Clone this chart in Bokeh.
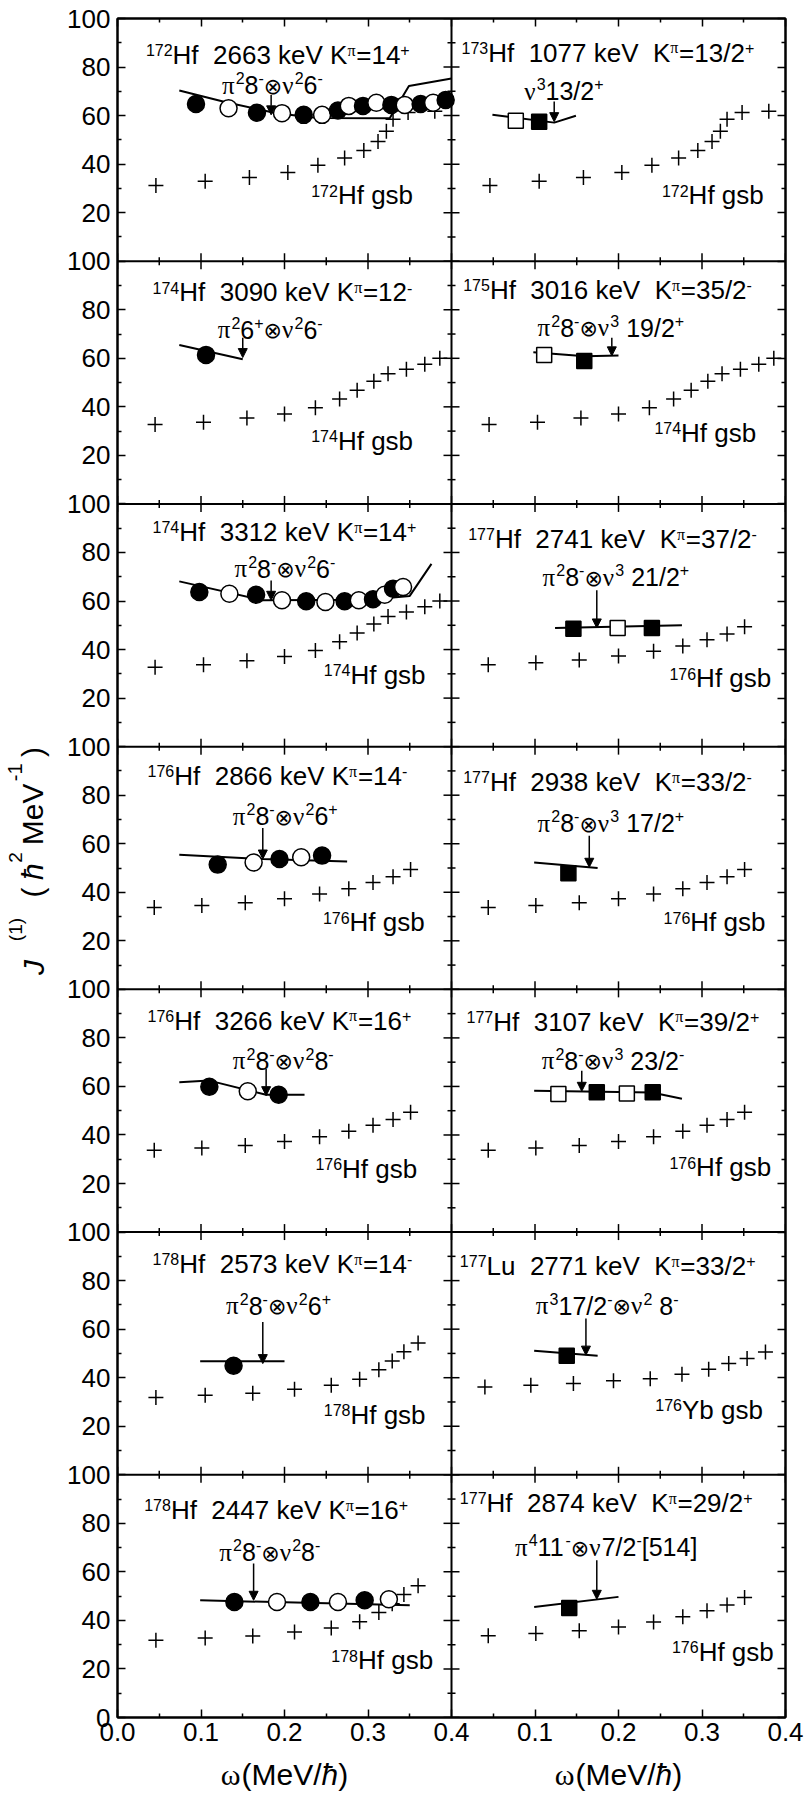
import math
from bokeh.plotting import figure
from bokeh.layouts import row, column
from bokeh.models import (ColumnDataSource, FixedTicker, LinearAxis, Range1d, Span,
                          Arrow, NormalHead, CustomJSTickFormatter)
from bokeh.embed import file_html
from bokeh.resources import INLINE
from bokeh.core.properties import value

# ---------------- data (omega in MeV/hbar, J(1) in hbar^2 MeV^-1) ----------------
GSB172_W = [0.046, 0.105, 0.158, 0.204, 0.240, 0.272, 0.295, 0.312, 0.322, 0.330, 0.348, 0.380]
GSB172_J = [31.2, 32.9, 34.5, 36.6, 39.5, 42.5, 45.6, 49.3, 53.5, 58.5, 61.3, 61.8]
GSB174_W = [0.045, 0.103, 0.155, 0.200, 0.237, 0.266, 0.287, 0.307, 0.324, 0.346, 0.368, 0.386]
GSB174_J = [32.7, 33.7, 35.4, 37.1, 39.6, 43.2, 46.8, 50.5, 53.6, 55.5, 57.6, 60.0]
GSB176_W = [0.044, 0.101, 0.153, 0.200, 0.242, 0.277, 0.306, 0.330, 0.351]
GSB176_J = [33.7, 34.6, 35.7, 37.3, 39.3, 41.5, 44.0, 46.4, 49.4]
GSB178_W = [0.046, 0.105, 0.162, 0.212, 0.256, 0.290, 0.313, 0.329, 0.343, 0.360]
GSB178_J = [31.8, 32.8, 33.6, 35.2, 36.9, 39.4, 43.3, 46.9, 50.7, 54.3]
GSB176YB_W = [0.040, 0.095, 0.146, 0.194, 0.238, 0.276, 0.308, 0.332, 0.354, 0.376]
GSB176YB_J = [36.2, 36.9, 37.6, 38.7, 39.6, 41.4, 43.5, 45.8, 47.9, 50.6]

# band points (filled = 1 -> solid symbol, 0 -> open symbol) and calculated lines
B1_W = [0.094, 0.133, 0.167, 0.197, 0.223, 0.245, 0.264, 0.277, 0.294, 0.310, 0.328, 0.344, 0.363, 0.378, 0.393]
B1_J = [64.8, 63.0, 61.2, 61.0, 60.3, 60.3, 62.1, 64.0, 64.0, 65.3, 64.4, 64.4, 64.8, 65.3, 66.4]
B1_F = [1, 0, 1, 0, 1, 0, 1, 0, 1, 0, 1, 0, 1, 0, 1]
L1_W = [0.074, 0.130, 0.190, 0.240, 0.326, 0.349, 0.400]
L1_J = [70.3, 65.5, 61.0, 59.0, 58.9, 72.2, 75.3]

B2_W = [0.077, 0.105]
B2_J = [57.9, 57.5]
B2_F = [0, 1]
L2_W = [0.049, 0.123, 0.149]
L2_J = [60.3, 57.1, 59.9]

B3_W = [0.106]
B3_J = [61.4]
B3_F = [1]
L3_W = [0.074, 0.150]
L3_J = [65.5, 59.6]

B4_W = [0.111, 0.159]
B4_J = [61.4, 58.9]
B4_F = [0, 1]
L4_W = [0.098, 0.160, 0.200]
L4_J = [62.5, 60.8, 61.2]

B5_W = [0.098, 0.134, 0.166, 0.197, 0.226, 0.249, 0.272, 0.289, 0.306, 0.320, 0.330, 0.342]
B5_J = [63.7, 63.0, 62.6, 60.3, 59.9, 59.6, 59.9, 60.3, 60.7, 62.6, 65.1, 65.8]
B5_F = [1, 0, 1, 0, 1, 0, 1, 0, 1, 0, 1, 0]
L5_W = [0.074, 0.174, 0.300, 0.350, 0.376]
L5_J = [68.1, 60.3, 60.5, 62.1, 75.3]

B6_W = [0.146, 0.199, 0.240]
B6_J = [48.6, 48.9, 48.9]
B6_F = [1, 0, 1]
L6_W = [0.124, 0.276]
L6_J = [48.9, 50.0]

B7_W = [0.120, 0.163, 0.194, 0.220, 0.245]
B7_J = [51.4, 52.3, 53.7, 54.4, 55.1]
B7_F = [1, 0, 1, 0, 1]
L7_W = [0.074, 0.174, 0.275]
L7_J = [55.5, 53.7, 52.7]

B8_W = [0.140]
B8_J = [47.8]
B8_F = [1]
L8_W = [0.099, 0.175]
L8_J = [52.3, 50.0]

B9_W = [0.110, 0.156, 0.193]
B9_J = [59.9, 58.0, 56.6]
B9_F = [1, 0, 1]
L9_W = [0.074, 0.110, 0.178, 0.224]
L9_J = [61.7, 62.4, 56.6, 56.6]

B10_W = [0.128, 0.174, 0.210, 0.241]
B10_J = [56.9, 57.6, 57.1, 57.6]
B10_F = [0, 1, 0, 1]
L10_W = [0.099, 0.240, 0.276]
L10_J = [58.2, 57.5, 54.9]

B11_W = [0.139]
B11_J = [44.9]
B11_F = [1]
L11_W = [0.099, 0.200]
L11_J = [46.8, 46.8]

B12_W = [0.138]
B12_J = [49.0]
B12_F = [1]
L12_W = [0.099, 0.175]
L12_J = [51.1, 49.0]

B13_W = [0.140, 0.191, 0.231, 0.264, 0.296, 0.325]
B13_J = [47.6, 47.6, 47.6, 47.6, 48.3, 48.7]
B13_F = [1, 0, 1, 0, 1, 0]
L13_W = [0.099, 0.350]
L13_J = [48.3, 46.2]

B14_W = [0.141]
B14_J = [45.1]
B14_F = [1]
L14_W = [0.099, 0.200]
L14_J = [45.5, 49.7]

# texts ("^{..}" = superscript)
TITLES = ["^{172}Hf  2663 keV K^{π}=14^{+}", "^{173}Hf  1077 keV  K^{π}=13/2^{+}",
          "^{174}Hf  3090 keV K^{π}=12^{-}", "^{175}Hf  3016 keV  K^{π}=35/2^{-}",
          "^{174}Hf  3312 keV K^{π}=14^{+}", "^{177}Hf  2741 keV  K^{π}=37/2^{-}",
          "^{176}Hf  2866 keV K^{π}=14^{-}", "^{177}Hf  2938 keV  K^{π}=33/2^{-}",
          "^{176}Hf  3266 keV K^{π}=16^{+}", "^{177}Hf  3107 keV  K^{π}=39/2^{+}",
          "^{178}Hf  2573 keV K^{π}=14^{-}", "^{177}Lu  2771 keV  K^{π}=33/2^{+}",
          "^{178}Hf  2447 keV K^{π}=16^{+}", "^{177}Hf  2874 keV  K^{π}=29/2^{+}"]
CONFIGS = ["π^{2}8^{-}⊗ν^{2}6^{-}", "ν^{3}13/2^{+}",
           "π^{2}6^{+}⊗ν^{2}6^{-}", "π^{2}8^{-}⊗ν^{3} 19/2^{+}",
           "π^{2}8^{-}⊗ν^{2}6^{-}", "π^{2}8^{-}⊗ν^{3} 21/2^{+}",
           "π^{2}8^{-}⊗ν^{2}6^{+}", "π^{2}8^{-}⊗ν^{3} 17/2^{+}",
           "π^{2}8^{-}⊗ν^{2}8^{-}", "π^{2}8^{-}⊗ν^{3} 23/2^{-}",
           "π^{2}8^{-}⊗ν^{2}6^{+}", "π^{3}17/2^{-}⊗ν^{2} 8^{-}",
           "π^{2}8^{-}⊗ν^{2}8^{-}", "π^{4}11^{-}⊗ν7/2^{-}[514]"]
GSB_LABELS = ["^{172}Hf gsb", "^{172}Hf gsb", "^{174}Hf gsb", "^{174}Hf gsb",
              "^{174}Hf gsb", "^{176}Hf gsb", "^{176}Hf gsb", "^{176}Hf gsb",
              "^{176}Hf gsb", "^{176}Hf gsb", "^{178}Hf gsb", "^{176}Yb gsb",
              "^{178}Hf gsb", "^{176}Hf gsb"]
X_TICKS = [0.0, 0.1, 0.2, 0.3, 0.4, 0.5, 0.6, 0.7, 0.8]
X_TICK_LABELS = ["0.0", "0.1", "0.2", "0.3", "0.4", "0.1", "0.2", "0.3", "0.4"]
X_MINOR = [0.05, 0.15, 0.25, 0.35, 0.45, 0.55, 0.65, 0.75]
Y_TICKS = list(range(0, 701, 20))
Y_MINOR = list(range(10, 700, 20))

# annotation placement (panel-local data coords, baseline of the text)
TITLE_POS = [(0.034, 81.5), (0.012, 82.5), (0.042, 83.7), (0.014, 84.6), (0.042, 85.0), (0.020, 82.0),
             (0.036, 84.5), (0.014, 82.0), (0.036, 83.7), (0.018, 83.3), (0.042, 83.3), (0.010, 82.5),
             (0.032, 82.1), (0.010, 85.0)]
GSB_POS = [(0.232, 23.7), (0.252, 23.7), (0.232, 22.6), (0.243, 26.0), (0.247, 26.0), (0.261, 24.7),
           (0.246, 24.2), (0.254, 24.2), (0.237, 22.5), (0.261, 23.2), (0.247, 21.1), (0.244, 23.2),
           (0.256, 20.1), (0.264, 23.6)]
CONF_POS = [(0.125, 69.2), (0.087, 66.7), (0.120, 68.5), (0.103, 69.2), (0.140, 69.9), (0.109, 66.4),
            (0.138, 68.1), (0.103, 65.1), (0.138, 67.2), (0.108, 67.2), (0.130, 66.4), (0.101, 66.4),
            (0.122, 64.8), (0.076, 66.8)]
ARROWS = [(0.184, 68.5, 60.3), (0.123, 65.8, 57.5), (0.150, 68.5, 60.3), (0.192, 68.5, 61.0),
          (0.184, 68.5, 60.3), (0.174, 64.4, 48.9), (0.174, 66.5, 53.7), (0.165, 63.3, 50.3),
          (0.178, 67.2, 56.2), (0.156, 66.5, 58.0), (0.174, 63.0, 45.8), (0.161, 64.4, 49.3),
          (0.163, 63.4, 48.3), (0.174, 64.8, 48.7)]

PANELS = [
    (GSB172_W, GSB172_J, B1_W, B1_J, B1_F, "circle", L1_W, L1_J),
    (GSB172_W, GSB172_J, B2_W, B2_J, B2_F, "square", L2_W, L2_J),
    (GSB174_W, GSB174_J, B3_W, B3_J, B3_F, "circle", L3_W, L3_J),
    (GSB174_W, GSB174_J, B4_W, B4_J, B4_F, "square", L4_W, L4_J),
    (GSB174_W, GSB174_J, B5_W, B5_J, B5_F, "circle", L5_W, L5_J),
    (GSB176_W, GSB176_J, B6_W, B6_J, B6_F, "square", L6_W, L6_J),
    (GSB176_W, GSB176_J, B7_W, B7_J, B7_F, "circle", L7_W, L7_J),
    (GSB176_W, GSB176_J, B8_W, B8_J, B8_F, "square", L8_W, L8_J),
    (GSB176_W, GSB176_J, B9_W, B9_J, B9_F, "circle", L9_W, L9_J),
    (GSB176_W, GSB176_J, B10_W, B10_J, B10_F, "square", L10_W, L10_J),
    (GSB178_W, GSB178_J, B11_W, B11_J, B11_F, "circle", L11_W, L11_J),
    (GSB176YB_W, GSB176YB_J, B12_W, B12_J, B12_F, "square", L12_W, L12_J),
    (GSB178_W, GSB178_J, B13_W, B13_J, B13_F, "circle", L13_W, L13_J),
    (GSB176_W, GSB176_J, B14_W, B14_J, B14_F, "square", L14_W, L14_J),
]

# ---------------- geometry / style ----------------
W, H = 804, 1793
YW = 62                      # strip holding the y title
B_LEFT, B_RIGHT, B_TOP, B_BOTTOM = 117, 19, 18, 36
NROWS, NCOLS = 7, 2
XSPAN, YSPAN = 0.4, 100.0
FW = W - B_LEFT - B_RIGHT
FH = 1699
PH = B_TOP + FH + B_BOTTOM   # height of the main plot
XH = H - PH                  # strip holding the x titles
PX_X = FW / (NCOLS * XSPAN)
PX_Y = FH / (NROWS * YSPAN)
BASE_K = 0.32                # baseline correction of the text glyphs (fraction of font size)

SANS, SERIF, SYM = "Liberation Sans", "Liberation Serif", "DejaVu Sans"
CHAR_W = {" ": 0.278, ".": 0.278, "H": 0.722, "f": 0.278, "k": 0.5, "e": 0.556, "V": 0.667,
          "K": 0.667, "=": 0.584, "+": 0.584, "-": 0.333, "/": 0.278, "L": 0.556, "u": 0.556,
          "g": 0.556, "s": 0.5, "b": 0.556, "Y": 0.667, "[": 0.278, "]": 0.278, "(": 0.333,
          ")": 0.333, "M": 0.833, "J": 0.5, "ħ": 0.556, "ω": 0.69, "π": 0.55, "ν": 0.5, "⊗": 0.838}
NBSP = "\u00a0"


def text_w(s, size):
    return sum(CHAR_W.get(c, 0.556) for c in s) * size


def parse(markup):
    out, buf, i = [], "", 0
    while i < len(markup):
        if markup.startswith("^{", i):
            if buf:
                out.append((buf, False))
                buf = ""
            j = markup.index("}", i)
            out.append((markup[i + 2:j], True))
            i = j + 1
        else:
            buf += markup[i]
            i += 1
    if buf:
        out.append((buf, False))
    return out


def char_font(ch):
    if ch in "πν":
        return SERIF
    if ch == "⊗":
        return SYM
    return SANS


def layout(markup, main, sup, raise_px, sym_scale=0.86):
    pieces, x = [], 0.0
    for txt, is_sup in parse(markup):
        size = sup if is_sup else main
        dy = raise_px if is_sup else 0.0
        groups = []
        for ch in txt:
            f = char_font(ch)
            if groups and groups[-1][0] == f:
                groups[-1][1] += ch
            else:
                groups.append([f, ch])
        for f, s in groups:
            sz = round(size * sym_scale) if f == SYM else size
            pieces.append((s, f, sz, x, dy))
            x += text_w(s, sz)
    return pieces, x


p = figure(width=W - YW, height=PH, x_range=Range1d(0, NCOLS * XSPAN), y_range=Range1d(0, NROWS * YSPAN),
           output_backend="svg", toolbar_location=None,
           min_border_left=B_LEFT - YW, min_border_right=B_RIGHT, min_border_top=B_TOP,
           min_border_bottom=B_BOTTOM)
p.title.visible = False
p.grid.visible = False
p.background_fill_color = "white"
p.border_fill_color = "white"
p.outline_line_color = "black"
p.outline_line_width = 2

xt = FixedTicker(ticks=X_TICKS, minor_ticks=X_MINOR)
yt = FixedTicker(ticks=Y_TICKS, minor_ticks=Y_MINOR)


def style_axis(ax):
    ax.axis_line_width = 2
    ax.axis_line_color = "black"
    ax.major_tick_in = 8
    ax.major_tick_out = 0
    ax.minor_tick_in = 4
    ax.minor_tick_out = 0
    ax.major_tick_line_width = 1.5
    ax.minor_tick_line_width = 1.5
    ax.major_tick_line_color = "black"
    ax.minor_tick_line_color = "black"
    ax.major_label_text_font = SANS
    ax.major_label_text_font_size = "26px"
    ax.major_label_text_color = "black"


xa = p.xaxis[0]
xa.ticker = xt
style_axis(xa)
xa.major_label_overrides = {t: l for t, l in zip(X_TICKS, X_TICK_LABELS)}
xa.major_label_standoff = 5

ya = p.yaxis[0]
ya.ticker = yt
style_axis(ya)
ya.major_label_overrides = {v: ("0" if v == 0 else ("100" if v % 100 == 0 else str(v % 100))) for v in Y_TICKS}
ya.major_label_standoff = 7

for loc, tk in (("right", yt), ("above", xt)):
    ax = LinearAxis(ticker=tk, formatter=CustomJSTickFormatter(code="return ''"))
    style_axis(ax)
    ax.major_label_text_font_size = "1px"
    ax.major_label_standoff = 0
    p.add_layout(ax, loc)

# panel dividers
for k in range(1, NROWS):
    p.add_layout(Span(location=k * YSPAN, dimension="width", line_color="black", line_width=2))
p.add_layout(Span(location=XSPAN, dimension="height", line_color="black", line_width=2))

# inward ticks on the dividers (both sides)
hx_maj, hy_maj, hx_min, hy_min = [], [], [], []
for k in range(1, NROWS):
    for t in X_TICKS:
        hx_maj.append(t)
        hy_maj.append(k * YSPAN)
    for t in X_MINOR:
        hx_min.append(t)
        hy_min.append(k * YSPAN)
p.scatter(hx_maj, hy_maj, marker="dash", size=16, angle=math.pi / 2, line_color="black", line_width=1.5)
p.scatter(hx_min, hy_min, marker="dash", size=8, angle=math.pi / 2, line_color="black", line_width=1.5)
p.scatter([XSPAN] * len(Y_TICKS), Y_TICKS, marker="dash", size=16, line_color="black", line_width=1.5)
p.scatter([XSPAN] * len(Y_MINOR), Y_MINOR, marker="dash", size=8, line_color="black", line_width=1.5)

# data
texts = {}


def add_text(markup, x0, y0, main, sup, raise_px):
    pieces, _ = layout(markup, main, sup, raise_px)
    for s, f, sz, dx, dy in pieces:
        d = texts.setdefault((f, sz), {"x": [], "y": [], "t": []})
        d["x"].append(x0 + dx / PX_X)
        d["y"].append(y0 + (dy + BASE_K * sz) / PX_Y)
        d["t"].append(s.replace(" ", NBSP))


arr = {"x0": [], "y0": [], "x1": [], "y1": []}
for i, (gw, gj, bw, bj, bf, mk, lw, lj) in enumerate(PANELS):
    r, c = divmod(i, NCOLS)
    ox = c * XSPAN
    oy = (NROWS - 1 - r) * YSPAN
    p.scatter([w + ox for w in gw], [j + oy for j in gj], marker="cross", size=15,
              line_color="black", line_width=1.5)
    p.line([w + ox for w in lw], [j + oy for j in lj], line_color="black", line_width=2)
    src = ColumnDataSource(dict(x=[w + ox for w in bw], y=[j + oy for j in bj],
                                fill=["black" if f else "white" for f in bf]))
    p.scatter("x", "y", source=src, marker=mk, size=(17 if mk == "circle" else 15),
              fill_color="fill", line_color="black", line_width=1.5)
    tx, ty = TITLE_POS[i]
    add_text(TITLES[i], tx + ox, ty + oy, 26, 16, 8)
    cx, cy = CONF_POS[i]
    add_text(CONFIGS[i], cx + ox, cy + oy, 25, 16, 10)
    gx, gy = GSB_POS[i]
    add_text(GSB_LABELS[i], gx + ox, gy + oy, 26, 16, 8)
    ax_, a0, a1 = ARROWS[i]
    arr["x0"].append(ax_ + ox)
    arr["x1"].append(ax_ + ox)
    arr["y0"].append(a0 + oy)
    arr["y1"].append(a1 + oy)

for (f, sz), d in texts.items():
    p.text(x=d["x"], y=d["y"], text=d["t"], text_font=value(f), text_font_size=value(f"{sz}px"),
           text_align="left", text_baseline="alphabetic", text_color="black")

p.add_layout(Arrow(end=NormalHead(size=9, fill_color="black", line_color="black", line_width=1),
                   x_start="x0", y_start="y0", x_end="x1", y_end="y1",
                   source=ColumnDataSource(arr), line_color="black", line_width=1.5))


# ---------------- axis titles in their own strips (pixel coordinates) ----------------
def strip(width, height):
    f = figure(width=width, height=height, x_range=Range1d(0, width), y_range=Range1d(0, height),
               x_axis_type=None, y_axis_type=None, output_backend="svg", toolbar_location=None,
               min_border=0, min_border_left=0, min_border_right=0, min_border_top=0,
               min_border_bottom=0)
    f.title.visible = False
    f.outline_line_color = None
    f.background_fill_color = "white"
    f.border_fill_color = "white"
    return f


# y title: (text, size, style, baseline x px, start y px from page top)
yfig = strip(YW, PH)
YLAB = [("J", 30, "italic", 43, 987), ("(1)", 19, "normal", 21, 952), ("(", 30, "normal", 42, 907),
        ("ħ", 30, "italic", 42, 889), ("2", 19, "normal", 21, 871), ("MeV", 30, "normal", 42, 853),
        ("-1", 20, "normal", 21, 787), (")", 30, "normal", 42, 762)]
for s, sz, st, bx, sy in YLAB:
    yfig.text(x=[bx - BASE_K * sz], y=[PH - sy], text=[s], angle=math.pi / 2,
              text_font=value(SANS), text_font_size=value(f"{sz}px"), text_font_style=st,
              text_align="left", text_baseline="alphabetic", text_color="black")

xfig = strip(W, XH)
XLAB = [("ω", SERIF, 30, "normal"), ("(MeV/", SANS, 30, "normal"), ("ħ", SANS, 30, "italic"),
        (")", SANS, 30, "normal")]
for c in range(NCOLS):
    total = sum(text_w(s, sz) for s, f, sz, st in XLAB)
    xcur = B_LEFT + (c + 0.5) * XSPAN * PX_X - total / 2
    for s, f, sz, st in XLAB:
        xfig.text(x=[xcur], y=[H - 1784 + BASE_K * sz], text=[s], text_font=value(f),
                  text_font_size=value(f"{sz}px"), text_font_style=st, text_align="left",
                  text_baseline="alphabetic", text_color="black")
        xcur += text_w(s, sz)

page = column(row(yfig, p, spacing=0), xfig, spacing=0)
open("out.html", "w").write(file_html(page, INLINE))
